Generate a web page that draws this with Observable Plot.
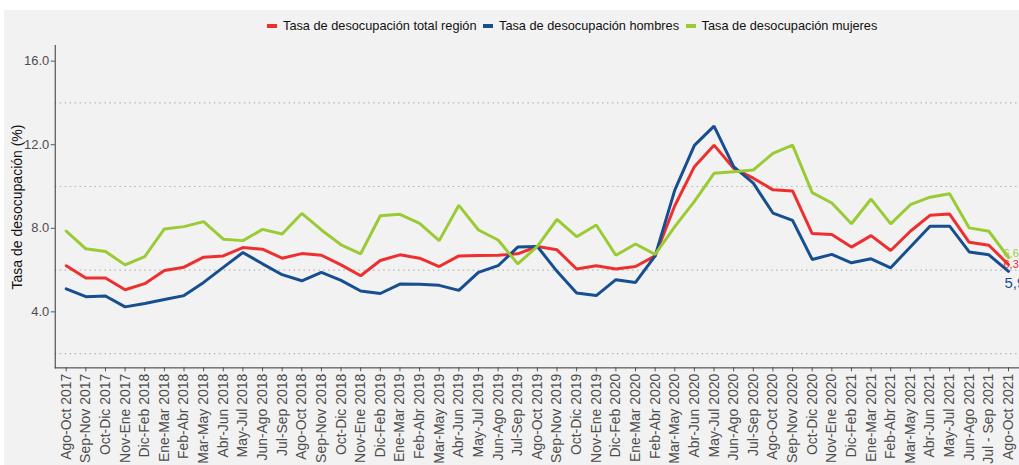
<!DOCTYPE html>
<html>
<head>
<meta charset="utf-8">
<script src="https://cdn.jsdelivr.net/npm/d3@7"></script>
<script src="https://cdn.jsdelivr.net/npm/@observablehq/plot@0.6"></script>
<style>
  html, body { margin: 0; padding: 0; background: #ffffff; overflow: hidden; }
  #page { position: relative; width: 1019px; height: 465px; overflow: hidden; }
  #panel { position: absolute; left: 4px; top: 10px; right: 0; bottom: 0; background: #f2f2f2; }
  #legend { position: absolute; left: 267px; top: 18px; display: flex;
            font-family: "Liberation Sans", Arial, sans-serif; font-size: 12.75px; color: #111; align-items: center; white-space: nowrap; }
  #legend .item { display: flex; align-items: center; margin-right: 6.5px; }
  #legend .sw { width: 10px; height: 4px; margin-right: 6px; }
  #ylabel { position: absolute; left: 17px; top: 207px; transform: translate(-50%, -50%) rotate(-90deg); white-space: nowrap;
            font-family: "Liberation Sans", Arial, sans-serif; font-size: 14px; color: #111; }
  #chart { position: absolute; left: 0; top: 40px; }
</style>
</head>
<body>
<div id="page">
  <div id="panel"></div>
  <div id="legend"></div>
  <div id="ylabel">Tasa de desocupación (%)</div>
  <div id="chart"></div>
</div>
<script>
const categories = [
  "Ago-Oct 2017","Sep-Nov 2017","Oct-Dic 2017","Nov-Ene 2017","Dic-Feb 2018","Ene-Mar 2018","Feb-Abr 2018",
  "Mar-May 2018","Abr-Jun 2018","May-Jul 2018","Jun-Ago 2018","Jul-Sep 2018","Ago-Oct 2018","Sep-Nov 2018",
  "Oct-Dic 2018","Nov-Ene 2018","Dic-Feb 2019","Ene-Mar 2019","Feb-Abr 2019","Mar-May 2019","Abr-Jun 2019",
  "May-Jul 2019","Jun-Ago 2019","Jul-Sep 2019","Ago-Oct 2019","Sep-Nov 2019","Oct-Dic 2019","Nov-Ene 2019",
  "Dic-Feb 2020","Ene-Mar 2020","Feb-Abr 2020","Mar-May 2020","Abr-Jun 2020","May-Jul 2020","Jun-Ago 2020",
  "Jul-Sep 2020","Ago-Oct 2020","Sep-Nov 2020","Oct-Dic 2020","Nov-Ene 2020","Dic-Feb 2021","Ene-Mar 2021",
  "Feb-Abr 2021","Mar-May 2021","Abr-Jun 2021","May-Jul 2021","Jun-Ago 2021","Jul - Sep 2021","Ago-Oct 2021"
];
const total = [
  6.21,5.62,5.62,5.06,5.35,5.98,6.14,6.62,6.68,7.08,7.00,6.57,6.79,6.71,6.25,5.73,
  6.46,6.73,6.57,6.17,6.68,6.70,6.71,6.78,7.13,6.97,6.05,6.21,6.05,6.17,6.68,9.08,
  10.95,11.98,10.87,10.40,9.84,9.79,7.75,7.70,7.10,7.65,6.94,7.86,8.62,8.68,7.33,7.19,6.27
];
const hombres = [
  5.10,4.73,4.76,4.24,4.40,4.59,4.78,5.41,6.13,6.84,6.30,5.78,5.49,5.89,5.51,5.00,
  4.88,5.33,5.32,5.27,5.03,5.89,6.21,7.10,7.13,5.94,4.90,4.78,5.54,5.41,6.68,9.83,
  11.97,12.89,10.95,10.16,8.73,8.38,6.51,6.75,6.35,6.54,6.11,7.11,8.10,8.10,6.87,6.73,5.94
];
const mujeres = [
  7.87,7.02,6.89,6.25,6.65,7.97,8.08,8.32,7.48,7.41,7.95,7.73,8.71,7.92,7.21,6.78,
  8.60,8.67,8.24,7.41,9.10,7.92,7.44,6.30,7.13,8.43,7.60,8.16,6.71,7.25,6.75,8.08,
  9.29,10.63,10.71,10.79,11.59,11.98,9.71,9.21,8.22,9.40,8.21,9.13,9.49,9.65,8.02,7.86,6.60
];
const seriesNames = ["Tasa de desocupación total región","Tasa de desocupación hombres","Tasa de desocupación mujeres"];
const seriesColors = ["#ee2f2f","#174e8f","#9acb34"];
const yTicks = [4, 8, 12, 16];
const yGrid = [2, 6, 10, 14];

const seriesValues = [total, hombres, mujeres];
const rows = seriesValues.flatMap((vals, s) => vals.map((v, i) => ({cat: categories[i], value: v, series: seriesNames[s]})));
const lastRows = seriesValues.map((vals, s) => ({cat: categories[vals.length - 1], value: vals[vals.length - 1], series: seriesNames[s]}));
const fmt = d => d.toFixed(1).replace(".", ",");

// legend
const legend = document.getElementById("legend");
seriesNames.forEach((n, i) => {
  const it = document.createElement("div"); it.className = "item";
  const sw = document.createElement("div"); sw.className = "sw"; sw.style.background = seriesColors[i];
  const tx = document.createElement("span"); tx.textContent = n;
  it.appendChild(sw); it.appendChild(tx); legend.appendChild(it);
});

const chart = Plot.plot({
  width: 1024,
  height: 425,
  marginLeft: 55,
  marginRight: 0,
  marginTop: 5,
  marginBottom: 96,
  style: {background: "transparent", fontFamily: "'Liberation Sans', Arial, sans-serif", color: "#4d4d4d", overflow: "visible"},
  x: {type: "point", domain: categories, padding: 0.56, label: null},
  y: {domain: [1.32, 16.75], label: null},
  color: {domain: seriesNames, range: seriesColors},
  marks: [
    Plot.ruleY(yGrid, {stroke: "#b5b5b5", strokeWidth: 1.2, strokeDasharray: "1.5,3.5"}),
    Plot.axisY(yTicks, {tickFormat: d => d.toFixed(1), tickSize: 4, tickPadding: 2, fontSize: 13, label: null, stroke: "#555"}),
    Plot.axisX({tickRotate: -90, tickSize: 4, tickPadding: 2, fontSize: 14, label: null, stroke: "#555"}),
    Plot.frame({anchor: "left", stroke: "#333"}),
    Plot.frame({anchor: "bottom", stroke: "#333"}),
    Plot.line(rows, {x: "cat", y: "value", stroke: "series", strokeWidth: 3, strokeLinejoin: "miter"}),
    Plot.text(lastRows.filter(d => d.series === seriesNames[2]), {x: "cat", y: "value", text: d => fmt(d.value), fill: "series", textAnchor: "start", dx: -5, dy: -4, fontSize: 11}),
    Plot.text(lastRows.filter(d => d.series === seriesNames[0]), {x: "cat", y: "value", text: d => fmt(d.value), fill: "series", textAnchor: "start", dx: -5, dy: 0, fontSize: 11}),
    Plot.text(lastRows.filter(d => d.series === seriesNames[1]), {x: "cat", y: "value", text: d => fmt(d.value), fill: "series", textAnchor: "start", dx: -4, dy: 12, fontSize: 15})
  ]
});
document.getElementById("chart").appendChild(chart);
</script>
</body>
</html>
